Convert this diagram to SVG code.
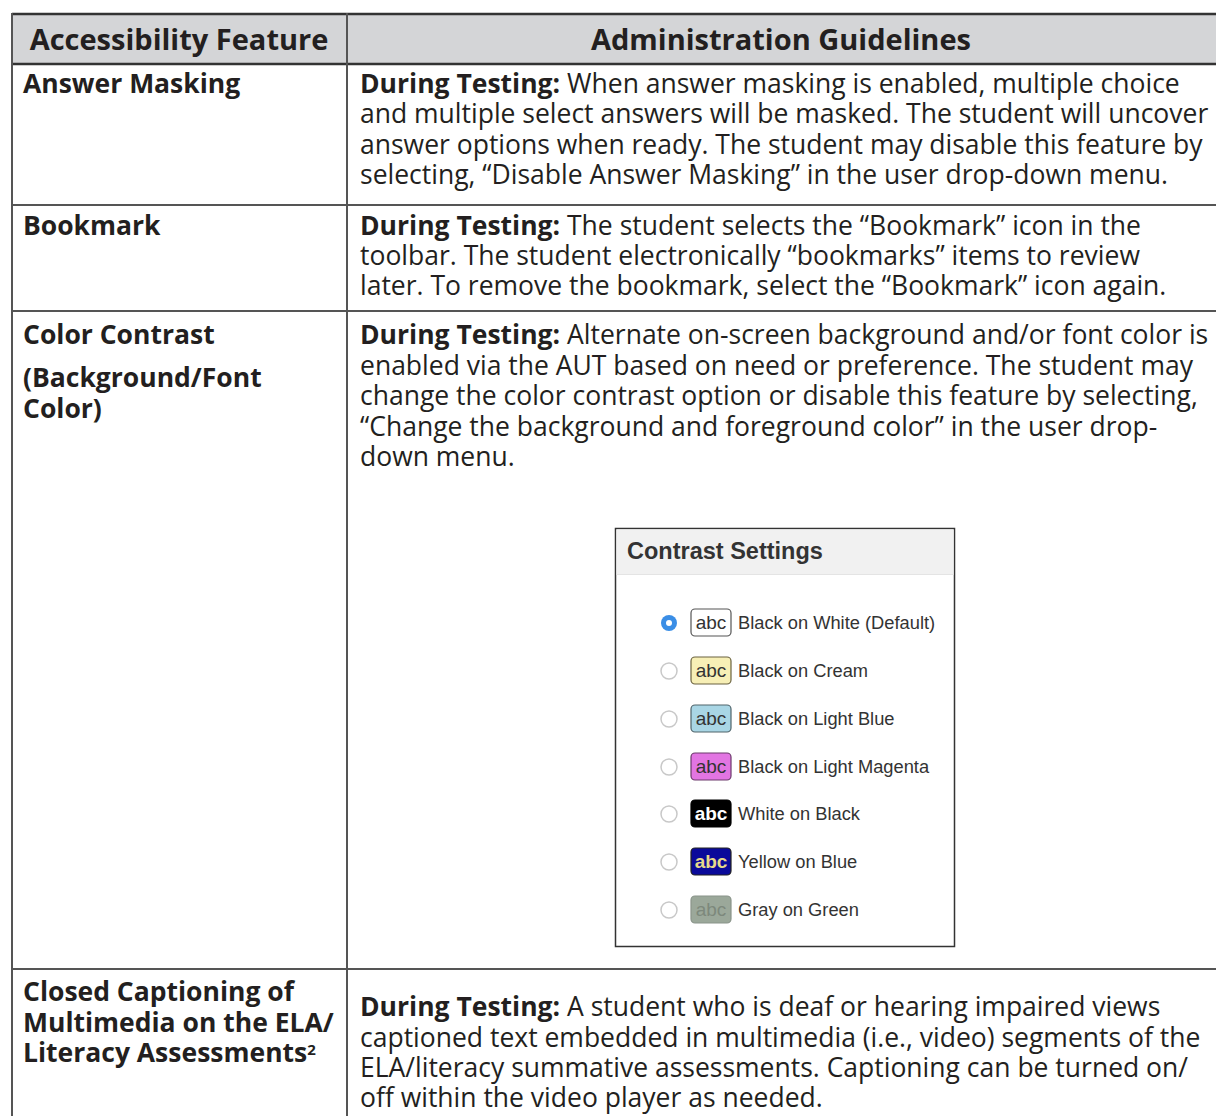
<svg xmlns="http://www.w3.org/2000/svg" width="1216" height="1116" viewBox="0 0 1216 1116">
<style>
.t{font-family:"Open Sans","Noto Sans",sans-serif;font-size:26.5px;fill:#231f20}
.b{font-weight:bold}
.hd{font-family:"Open Sans","Noto Sans",sans-serif;font-size:29px;font-weight:bold;fill:#231f20}
.g{stroke:#555;stroke-width:2;fill:none}
.k{stroke:#333;stroke-width:2.5;fill:none}
.lab{font-family:"Liberation Sans",Arial,sans-serif;font-size:18.3px;fill:#333}
.abc{font-family:"Liberation Sans",Arial,sans-serif;font-size:19px;text-anchor:middle}
.rad{fill:#fff;stroke:#c8c8c8;stroke-width:1.5}
</style>
<rect width="1216" height="1116" fill="#fff"/>
<g id="table-lines">
<rect x="12" y="14" width="1206" height="50" fill="#d4d5d7"/>
<line class="k" x1="12" y1="14" x2="1216" y2="14"/>
<line class="k" x1="12" y1="64" x2="1216" y2="64"/>
<line class="g" x1="12" y1="205" x2="1216" y2="205"/>
<line class="g" x1="12" y1="311" x2="1216" y2="311"/>
<line class="g" x1="12" y1="969" x2="1216" y2="969"/>
<line class="g" x1="12" y1="13" x2="12" y2="1116"/>
<line class="g" x1="347" y1="13" x2="347" y2="1116"/>
</g>
<g id="header">
<text class="hd" x="179" y="50" text-anchor="middle">Accessibility Feature</text>
<text class="hd" x="781" y="50" text-anchor="middle">Administration Guidelines</text>
</g>
<g id="row-answer-masking">
<text class="t b" x="23" y="93">Answer Masking</text>
<text class="t" x="360" y="93"><tspan class="b">During Testing:</tspan> When answer masking is enabled, multiple choice</text>
<text class="t" x="360" y="123">and multiple select answers will be masked. The student will uncover</text>
<text class="t" x="360" y="154">answer options when ready. The student may disable this feature by</text>
<text class="t" x="360" y="184">selecting, “Disable Answer Masking” in the user drop-down menu.</text>
</g>
<g id="row-bookmark">
<text class="t b" x="23" y="235">Bookmark</text>
<text class="t" x="360" y="235"><tspan class="b">During Testing:</tspan> The student selects the “Bookmark” icon in the</text>
<text class="t" x="360" y="265">toolbar. The student electronically “bookmarks” items to review</text>
<text class="t" x="360" y="295">later. To remove the bookmark, select the “Bookmark” icon again.</text>
</g>
<g id="row-color-contrast">
<text class="t b" x="23" y="344">Color Contrast</text>
<text class="t b" x="23" y="387">(Background/Font</text>
<text class="t b" x="23" y="418">Color)</text>
<text class="t" x="360" y="344"><tspan class="b">During Testing:</tspan> Alternate on-screen background and/or font color is</text>
<text class="t" x="360" y="375">enabled via the AUT based on need or preference. The student may</text>
<text class="t" x="360" y="405">change the color contrast option or disable this feature by selecting,</text>
<text class="t" x="360" y="436">“Change the background and foreground color” in the user drop-</text>
<text class="t" x="360" y="466">down menu.</text>
</g>
<g id="contrast-settings">
<rect x="615.5" y="528.5" width="339" height="418" fill="#fff" stroke="#333" stroke-width="1.5"/>
<rect x="616.5" y="529.5" width="337" height="45" fill="#f1f1f1"/>
<line x1="616.5" y1="574.5" x2="953.5" y2="574.5" stroke="#e4e4e4" stroke-width="1"/>
<text x="627" y="559" font-family="Liberation Sans,Arial,sans-serif" font-size="23.5" font-weight="bold" fill="#333">Contrast Settings</text>
<circle cx="669" cy="623" r="8" fill="#3a8ee6"/>
<circle cx="669" cy="623" r="3" fill="#fff"/>
<rect x="691" y="609" width="40" height="27" rx="4" fill="#fff" stroke="#555" stroke-width="1.2"/>
<text class="abc" x="711" y="629" fill="#333">abc</text>
<text class="lab" x="738" y="629">Black on White (Default)</text>
<circle class="rad" cx="669" cy="671" r="8"/>
<rect x="691" y="657" width="40" height="27" rx="4" fill="#f7efb6" stroke="#6b6340" stroke-width="1.2"/>
<text class="abc" x="711" y="677" fill="#333">abc</text>
<text class="lab" x="738" y="677">Black on Cream</text>
<circle class="rad" cx="669" cy="719" r="8"/>
<rect x="691" y="705" width="40" height="27" rx="4" fill="#a9d6e5" stroke="#50646b" stroke-width="1.2"/>
<text class="abc" x="711" y="725" fill="#333">abc</text>
<text class="lab" x="738" y="725">Black on Light Blue</text>
<circle class="rad" cx="669" cy="767" r="8"/>
<rect x="691" y="753" width="40" height="27" rx="4" fill="#e275e2" stroke="#6c3a6c" stroke-width="1.2"/>
<text class="abc" x="711" y="773" fill="#333">abc</text>
<text class="lab" x="738" y="773">Black on Light Magenta</text>
<circle class="rad" cx="669" cy="814" r="8"/>
<rect x="691" y="800" width="40" height="27" rx="4" fill="#000" stroke="#000" stroke-width="1.2"/>
<text class="abc" x="711" y="820" fill="#fff" font-weight="bold">abc</text>
<text class="lab" x="738" y="820">White on Black</text>
<circle class="rad" cx="669" cy="862" r="8"/>
<rect x="691" y="848" width="40" height="27" rx="4" fill="#0a0a9a" stroke="#222" stroke-width="1.2"/>
<text class="abc" x="711" y="868" fill="#e6d98a" font-weight="bold">abc</text>
<text class="lab" x="738" y="868">Yellow on Blue</text>
<circle class="rad" cx="669" cy="910" r="8"/>
<rect x="691" y="896" width="40" height="27" rx="4" fill="#9ba89a" stroke="#8a948a" stroke-width="1.2"/>
<text class="abc" x="711" y="916" fill="#7d887c">abc</text>
<text class="lab" x="738" y="916">Gray on Green</text>
</g>
<g id="row-closed-captioning">
<text class="t b" x="23" y="1001">Closed Captioning of</text>
<text class="t b" x="23" y="1032">Multimedia on the ELA/</text>
<text class="t b" x="23" y="1062">Literacy Assessments<tspan font-size="15" dy="-7">2</tspan></text>
<text class="t" x="360" y="1016"><tspan class="b">During Testing:</tspan> A student who is deaf or hearing impaired views</text>
<text class="t" x="360" y="1047">captioned text embedded in multimedia (i.e., video) segments of the</text>
<text class="t" x="360" y="1077">ELA/literacy summative assessments. Captioning can be turned on/</text>
<text class="t" x="360" y="1107">off within the video player as needed.</text>
</g>
</svg>
